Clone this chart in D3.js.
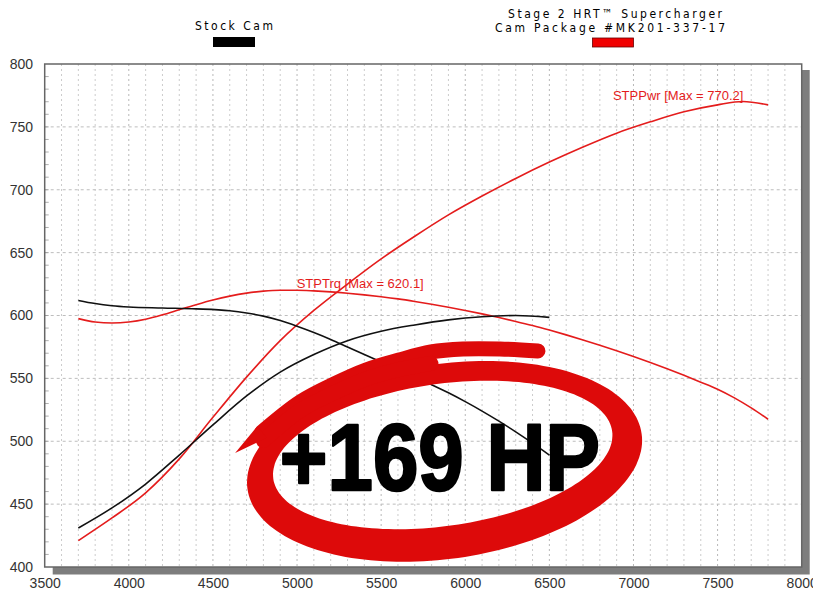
<!DOCTYPE html>
<html>
<head>
<meta charset="utf-8">
<script src="https://cdn.jsdelivr.net/npm/d3@7"></script>
<style>
  html, body { margin: 0; padding: 0; background: #fff; }
  svg { display: block; }
</style>
</head>
<body>
<svg id="chart" width="813" height="594"></svg>
<script>
// ---------------- DATA ----------------
const xTicks = [3500, 4000, 4500, 5000, 5500, 6000, 6500, 7000, 7500, 8000];
const yTicks = [400, 450, 500, 550, 600, 650, 700, 750, 800];

const stockRpm = [3700, 3900, 4100, 4300, 4500, 4700, 4900, 5100, 5300, 5500, 5700, 5900, 6100, 6300, 6500];
const stockPwr = [431, 447, 466, 489, 513, 536, 555, 569, 580, 587.5, 592.5, 596.5, 599, 600, 598.5];

const stockTrqRpm = [3700, 3800, 3900, 4000, 4200, 4400, 4600, 4700, 4800, 4900, 5000, 5100, 5200, 5300, 5400, 5500, 5600, 5700, 5800, 5900, 6000, 6100, 6200, 6300, 6400, 6500];
const stockTrq = [612, 609.5, 607.8, 606.8, 606, 605.3, 603.8, 602, 599.5, 596, 591.5, 586.5, 581, 575, 569, 563, 557, 551, 545, 538.5, 531.5, 524, 516, 507.5, 498.5, 489];

const hrtRpm = [3700, 3900, 4100, 4300, 4500, 4700, 4900, 5100, 5300, 5500, 5700, 5900, 6100, 6300, 6500, 6700, 6900, 7100, 7300, 7500, 7650, 7800];
const hrtPwr = [421, 439, 459, 486, 519, 551, 580, 604, 625, 645, 663, 680, 695, 709, 722, 734, 745, 754, 762, 767.5, 770.2, 767.5];

const hrtTrqRpm = [3700, 3800, 3900, 4000, 4100, 4200, 4300, 4400, 4500, 4600, 4700, 4800, 4900, 5000, 5100, 5200, 5300, 5400, 5500, 5600, 5700, 5800, 5900, 6000, 6100, 6200, 6300, 6400, 6500, 6600, 6700, 6800, 6900, 7000, 7100, 7200, 7300, 7400, 7500, 7600, 7700, 7800];
const hrtTrq = [597.5, 594.8, 594, 594.8, 597, 600.5, 604.6, 608.6, 612.3, 615.4, 617.8, 619.4, 620.1, 620.1, 619.6, 618.8, 617.7, 616.4, 614.9, 613.2, 611.2, 609, 606.6, 604, 601.3, 598.4, 595.3, 592, 588.4, 584.6, 580.6, 576.4, 572, 567.4, 562.6, 557.6, 552.4, 547, 541.4, 534.5, 526.5, 517.5];

const legendStock = "Stock Cam";
const legendHrt = ["Stage 2 HRT\u2122 Supercharger", "Cam Package #MK201-337-17"];
const pwrLabel = "STPPwr [Max = 770.2]";
const trqLabel = "STPTrq [Max = 620.1]";
const gainLabel = "+169 HP";

// ---------------- LAYOUT ----------------
const W = 813, H = 594;
const m = { left: 44.7, top: 64, right: 11.3, bottom: 27 };
const svg = d3.select("#chart");

const x = d3.scaleLinear().domain([3500, 8000]).range([m.left, W - m.right]);
const y = d3.scaleLinear().domain([400, 800]).range([H - m.bottom, m.top]);

const RED = "#e41c1c";
const BLACK = "#111";
const RING = "#dd0a0a";

// shadow of plot frame
svg.append("rect")
  .attr("x", x(3500) + 8).attr("y", y(800) + 6)
  .attr("width", x(8000) - x(3500)).attr("height", y(400) - y(800) + 1.5)
  .attr("fill", "#7d7d7d");
svg.append("rect")
  .attr("x", x(3500)).attr("y", y(800))
  .attr("width", x(8000) - x(3500)).attr("height", y(400) - y(800))
  .attr("fill", "#fff");

// grid
const grid = svg.append("g");
grid.selectAll("line.v").data(d3.range(3600, 8000, 100)).join("line")
  .attr("x1", d => x(d)).attr("x2", d => x(d))
  .attr("y1", y(800)).attr("y2", y(400))
  .attr("stroke", d => d % 500 === 0 ? "#b8b8b8" : "#cccccc")
  .attr("stroke-width", 1)
  .attr("stroke-dasharray", "2,3");
grid.selectAll("line.h").data(d3.range(450, 800, 50)).join("line")
  .attr("x1", x(3500)).attr("x2", x(8000))
  .attr("y1", d => y(d)).attr("y2", d => y(d))
  .attr("stroke", "#bdbdbd")
  .attr("stroke-width", 1)
  .attr("stroke-dasharray", "3,3");

// minor ticks on left axis
svg.append("g").selectAll("line").data(d3.range(410, 800, 10)).join("line")
  .attr("x1", x(3500)).attr("x2", x(3500) + 4)
  .attr("y1", d => y(d)).attr("y2", d => y(d))
  .attr("stroke", "#999").attr("stroke-width", 0.8);

// frame
svg.append("rect")
  .attr("x", x(3500)).attr("y", y(800))
  .attr("width", x(8000) - x(3500)).attr("height", y(400) - y(800))
  .attr("fill", "none").attr("stroke", "#666").attr("stroke-width", 1.5);

// axes labels
const axisFont = "'Liberation Sans', Arial, Helvetica, sans-serif";
const xAxis = d3.axisBottom(x).tickValues(xTicks).tickSize(0).tickPadding(0).tickFormat(d3.format("d"));
const gx = svg.append("g").attr("transform", `translate(0,${H - 14})`).call(xAxis);
gx.select(".domain").remove();
gx.selectAll("text").attr("font-family", axisFont).attr("font-size", 14).attr("fill", "#333").attr("dy", "0.55em");

const yAxis = d3.axisLeft(y).tickValues(yTicks).tickSize(0).tickPadding(0).tickFormat(d3.format("d"));
const gy = svg.append("g").attr("transform", `translate(33,0)`).call(yAxis);
gy.select(".domain").remove();
gy.selectAll("text").attr("font-family", axisFont).attr("font-size", 14).attr("fill", "#333");

// curves
const line = d3.line().x(d => x(d[0])).y(d => y(d[1])).curve(d3.curveMonotoneX);
const zip = (a, b) => a.map((v, i) => [v, b[i]]);
const curves = [
  { pts: zip(hrtTrqRpm, hrtTrq), color: RED },
  { pts: zip(hrtRpm, hrtPwr), color: RED },
  { pts: zip(stockTrqRpm, stockTrq), color: BLACK },
  { pts: zip(stockRpm, stockPwr), color: BLACK }
];
svg.append("g").selectAll("path").data(curves).join("path")
  .attr("d", d => line(d.pts))
  .attr("fill", "none").attr("stroke", d => d.color).attr("stroke-width", 1.6)
  .attr("stroke-linejoin", "round");

// curve labels
svg.append("text").attr("x", x(6878)).attr("y", y(771.4))
  .attr("font-family", axisFont).attr("font-size", 13).attr("fill", RED).text(pwrLabel);
svg.append("text").attr("x", x(4998)).attr("y", y(621.9))
  .attr("font-family", axisFont).attr("font-size", 13).attr("fill", RED).text(trqLabel);

// ---------------- hand-drawn ring annotation (in data units) ----------------
const ringOuter = { cx: 5877, cy: 484.0, rx: 1183, ry: 77.5 };
const ringInner = { cx: 5866, cy: 489.1, rx: 1017, ry: 56.5 };
const ringTilt = -8 * Math.PI / 180;
function ellipsePts(e, reverse) {
  const cx = x(e.cx), cy = y(e.cy);
  const rx = x(e.cx + e.rx) - cx, ry = y(e.cy) - y(e.cy + e.ry);
  const pts = [];
  for (let i = 0; i <= 180; i++) {
    const t = (reverse ? -1 : 1) * i / 180 * 2 * Math.PI;
    const ex = rx * Math.cos(t), ey = ry * Math.sin(t);
    pts.push([cx + ex * Math.cos(ringTilt) - ey * Math.sin(ringTilt),
              cy + ex * Math.sin(ringTilt) + ey * Math.cos(ringTilt)]);
  }
  return pts;
}
const toPath = pts => "M" + pts.map(p => p[0].toFixed(1) + "," + p[1].toFixed(1)).join("L") + "Z";
svg.append("path")
  .attr("d", toPath(ellipsePts(ringOuter, false)) + toPath(ellipsePts(ringInner, true)))
  .attr("fill", RING).attr("fill-rule", "evenodd");

// overshoot stroke (upper-left and top tail)
const tailRpm = [4792, 5018, 5220, 5410, 5606, 5796, 5986, 6206, 6432];
const tailVal = [507.4, 531.2, 545.5, 556.7, 564.6, 571.0, 573.4, 573.4, 571.8];
const tailLine = d3.line().x(d => x(d[0])).y(d => y(d[1])).curve(d3.curveCatmullRom);
svg.append("path")
  .attr("d", tailLine(zip(tailRpm, tailVal)))
  .attr("fill", "none").attr("stroke", RING).attr("stroke-width", 15).attr("stroke-linecap", "round");

// merged (doubled) section on the upper left, where both passes overlap
const mergeRpm = [4800, 5018, 5220, 5410, 5606, 5796];
const mergeVal = [500.5, 524.5, 538.5, 549.5, 557.0, 562.0];
svg.append("path")
  .attr("d", tailLine(zip(mergeRpm, mergeVal)))
  .attr("fill", "none").attr("stroke", RING).attr("stroke-width", 15).attr("stroke-linecap", "round");

// pointed start of the stroke
const spurRpm = [4632, 4764, 4819];
const spurVal = [490.7, 512.0, 502.7];
svg.append("path")
  .attr("d", d3.line().x(d => x(d[0])).y(d => y(d[1]))(zip(spurRpm, spurVal)) + "Z")
  .attr("fill", RING);

// gain text
svg.append("text")
  .attr("x", x(4898)).attr("y", y(461.2))
  .attr("font-family", "'Liberation Sans Narrow', 'Arial Narrow', 'Liberation Sans', sans-serif")
  .attr("font-weight", 700).attr("font-size", 95)
  .attr("textLength", 320).attr("lengthAdjust", "spacingAndGlyphs")
  .attr("fill", "#000").attr("stroke", "#000").attr("stroke-width", 2.5).attr("stroke-linejoin", "round")
  .text(gainLabel);

// ---------------- legend ----------------
const legFont = "'Liberation Sans Narrow', 'Arial Narrow', 'DejaVu Sans Condensed', sans-serif";
svg.append("text").attr("x", 195).attr("y", 30)
  .attr("font-family", legFont).attr("font-size", 12).attr("fill", "#000")
  .attr("textLength", 78).attr("lengthAdjust", "spacing").text(legendStock);
svg.append("rect").attr("x", 213).attr("y", 37).attr("width", 42).attr("height", 10)
  .attr("fill", "#000");

svg.append("text").attr("x", 508).attr("y", 18.3)
  .attr("font-family", legFont).attr("font-size", 12).attr("fill", "#000")
  .attr("textLength", 214).attr("lengthAdjust", "spacing").text(legendHrt[0]);
svg.append("text").attr("x", 495).attr("y", 32.3)
  .attr("font-family", legFont).attr("font-size", 12).attr("fill", "#000")
  .attr("textLength", 230).attr("lengthAdjust", "spacing").text(legendHrt[1]);
svg.append("rect").attr("x", 592.5).attr("y", 38).attr("width", 41).attr("height", 9)
  .attr("fill", "#f00000").attr("stroke", "#600").attr("stroke-width", 0.8);
</script>
</body>
</html>
